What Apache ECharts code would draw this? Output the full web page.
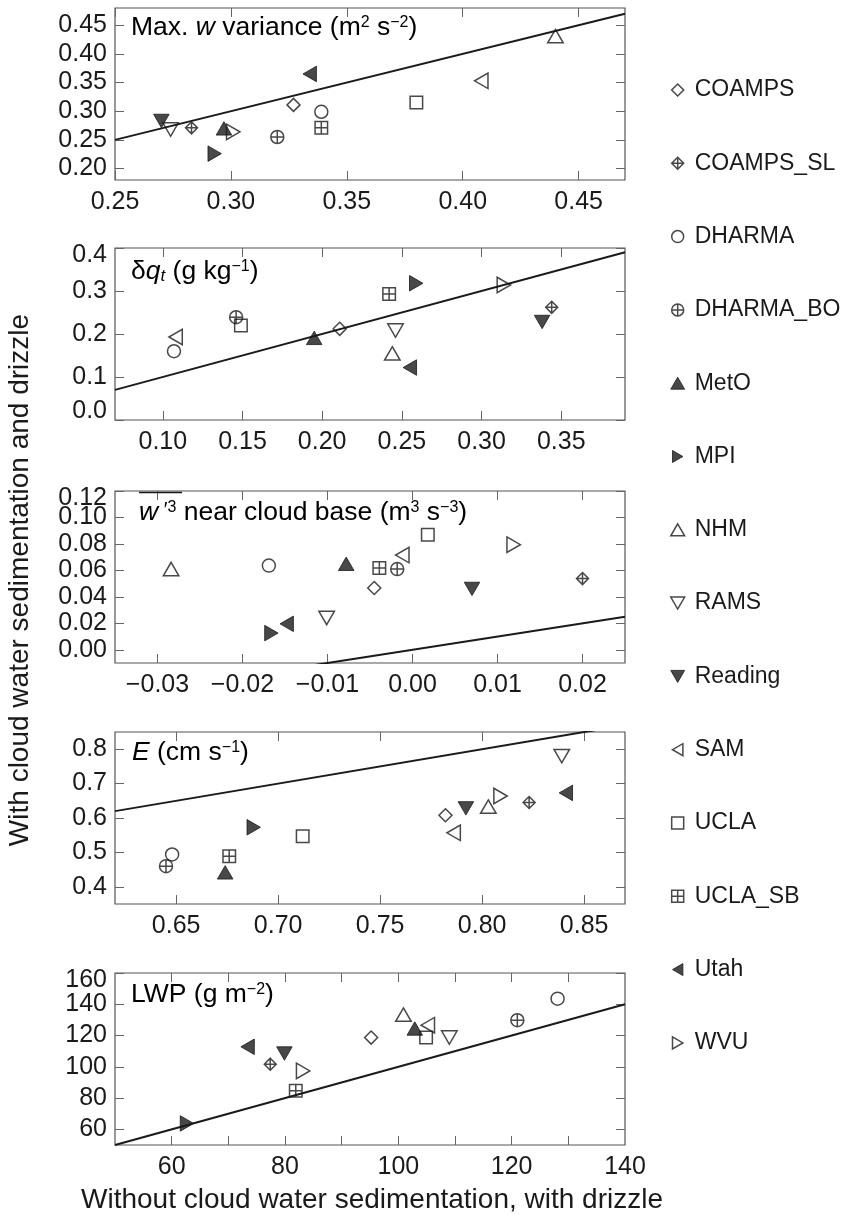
<!DOCTYPE html>
<html>
<head>
<meta charset="utf-8">
<script src="https://cdn.jsdelivr.net/npm/echarts@6/dist/echarts.min.js"></script>
<style>
html, body { margin: 0; padding: 0; background: #fff; }
#chart { width: 845px; height: 1215px; }
</style>
</head>
<body>
<div id="chart"></div>
<script>
var FONT = '"Liberation Sans", Arial, Helvetica, sans-serif';
var INK = '#1a1a1a';

var models = ['COAMPS', 'COAMPS_SL', 'DHARMA', 'DHARMA_BO', 'MetO', 'MPI', 'NHM',
  'RAMS', 'Reading', 'SAM', 'UCLA', 'UCLA_SB', 'Utah', 'WVU'];
var markerShape = ['diamond', 'diamondPlus', 'circle', 'circlePlus', 'up', 'right', 'up',
  'down', 'down', 'left', 'square', 'squarePlus', 'left', 'right'];
var markerFilled = [false, false, false, false, true, true, false,
  false, true, false, false, false, true, false];

// max. w variance (m2 s-2)
var wVarX = [0.327, 0.283, 0.339, 0.320, 0.297, 0.293, 0.440, 0.274, 0.270, 0.408, 0.380, 0.339, 0.334, 0.301];
var wVarY = [0.311, 0.271, 0.299, 0.255, 0.270, 0.226, 0.431, 0.268, 0.283, 0.353, 0.315, 0.271, 0.365, 0.264];
// delta qt (g kg-1)
var dqtX = [0.211, 0.344, 0.107, 0.146, 0.195, 0.259, 0.244, 0.246, 0.338, 0.108, 0.149, 0.242, 0.255, 0.314];
var dqtY = [0.212, 0.262, 0.160, 0.239, 0.191, 0.318, 0.155, 0.208, 0.228, 0.193, 0.220, 0.293, 0.122, 0.314];
// w'3 near cloud base (m3 s-3)
var w3X = [-0.0045, 0.0200, -0.0169, -0.0018, -0.0078, -0.0166, -0.0284, -0.0101, 0.0070, -0.0012, 0.0018, -0.0039, -0.0148, 0.0119];
var w3Y = [0.0467, 0.0538, 0.0636, 0.0610, 0.0650, 0.0126, 0.0610, 0.0240, 0.0460, 0.0716, 0.0869, 0.0618, 0.0196, 0.0794];
// E (cm s-1)
var entX = [0.782, 0.823, 0.648, 0.645, 0.674, 0.688, 0.803, 0.839, 0.792, 0.786, 0.712, 0.676, 0.841, 0.809];
var entY = [0.608, 0.645, 0.494, 0.460, 0.442, 0.573, 0.633, 0.780, 0.628, 0.557, 0.547, 0.489, 0.673, 0.664];
// LWP (g m-2)
var lwpX = [95.2, 77.4, 128.1, 121.0, 102.9, 62.7, 100.9, 109.0, 79.9, 105.2, 104.9, 81.9, 73.4, 83.2];
var lwpY = [118.7, 101.7, 143.6, 129.8, 124.5, 63.8, 133.4, 118.7, 108.5, 126.6, 118.7, 84.7, 112.8, 97.4];

var xRanges = [[0.25, 0.47], [0.07, 0.39], [-0.035, 0.025], [0.62, 0.87], [50, 140]];
var yRanges = [[0.18, 0.48], [0, 0.4], [-0.01, 0.12], [0.35, 0.85], [50, 160]];
var xTicks = [
  [0.25, 0.30, 0.35, 0.40, 0.45],
  [0.10, 0.15, 0.20, 0.25, 0.30, 0.35],
  [-0.03, -0.02, -0.01, 0.00, 0.01, 0.02],
  [0.65, 0.70, 0.75, 0.80, 0.85],
  [60, 70, 80, 90, 100, 110, 120, 130]
];
var xLabels = [
  [0.25, 0.30, 0.35, 0.40, 0.45],
  [0.10, 0.15, 0.20, 0.25, 0.30, 0.35],
  [-0.03, -0.02, -0.01, 0.00, 0.01, 0.02],
  [0.65, 0.70, 0.75, 0.80, 0.85],
  [60, 80, 100, 120, 140]
];
var yTicks = [
  [0.20, 0.25, 0.30, 0.35, 0.40, 0.45],
  [0.0, 0.1, 0.2, 0.3, 0.4],
  [0.00, 0.02, 0.04, 0.06, 0.08, 0.10, 0.12],
  [0.4, 0.5, 0.6, 0.7, 0.8],
  [60, 80, 100, 120, 140, 160]
];
var xDec = [2, 2, 2, 2, 0];
var yDec = [2, 1, 2, 1, 0];

var panelX = [wVarX, dqtX, w3X, entX, lwpX];
var panelY = [wVarY, dqtY, w3Y, entY, lwpY];
var gridTop = [8, 248, 491, 732, 973];
var gridH = 172;

var symbolPath = {
  diamond: 'path://M0,-10L10,0L0,10L-10,0Z',
  diamondPlus: 'path://M0,-10L10,0L0,10L-10,0ZM0,-10L0,10M-10,0L10,0',
  circle: 'circle',
  circlePlus: 'path://M-10,0A10,10,0,1,1,10,0A10,10,0,1,1,-10,0ZM-10,0L10,0M0,-10L0,10',
  square: 'path://M-10,-10L10,-10L10,10L-10,10Z',
  squarePlus: 'path://M-10,-10L10,-10L10,10L-10,10ZM0,-10L0,10M-10,0L10,0',
  up: 'path://M0,0L10,17.3L-10,17.3Z',
  down: 'path://M-10,0L10,0L0,17.3Z',
  left: 'path://M17.3,-10L17.3,10L0,0Z',
  right: 'path://M0,-10L17.3,0L0,10Z'
};
var symbolSize = { diamond: 13, diamondPlus: 12, circle: 13, circlePlus: 13, square: 12.5, squarePlus: 12.5,
  up: 15.5, down: 15.5, left: 15.5, right: 15.5 };

function markerStyle(m) {
  if (markerFilled[m]) return { color: INK, borderColor: INK, borderWidth: 1 };
  return { color: 'rgba(0,0,0,0)', borderColor: INK, borderWidth: 1.5 };
}

function fmt(v, dec) {
  return v.toFixed(dec).replace('-', '\u2212');
}

function isEdge(v, r) {
  return Math.abs(v - r[0]) < 1e-9 || Math.abs(v - r[1]) < 1e-9;
}

var edgeRich = {
  dn: { fontSize: 25, fontFamily: FONT, color: INK, padding: [14, 0, 0, 0] },
  up: { fontSize: 25, fontFamily: FONT, color: INK, padding: [0, 0, 18, 0] }
};

// kind: 'main' (ticks + labels), 'mirror' (ticks only), 'edge' (y labels sitting at the frame ends)
function makeAxis(p, dim, kind) {
  var r = dim === 'x' ? xRanges[p] : yRanges[p];
  var ticks = dim === 'x' ? xTicks[p] : yTicks[p];
  var labs = dim === 'x' ? xLabels[p] : yTicks[p];
  var dec = dim === 'x' ? xDec[p] : yDec[p];
  if (dim === 'y' && kind === 'main') labs = labs.filter(function (v) { return !isEdge(v, r); });
  if (dim === 'y' && kind === 'edge') labs = labs.filter(function (v) { return isEdge(v, r); });
  var mirror = kind === 'mirror';
  return {
    type: 'value',
    gridIndex: p,
    min: r[0],
    max: r[1],
    position: dim === 'x' ? (mirror ? 'top' : 'bottom') : (mirror ? 'right' : 'left'),
    splitLine: { show: false },
    axisLine: { show: false, onZero: false },
    axisTick: { show: kind !== 'edge', inside: true, length: 9, customValues: ticks,
      lineStyle: { color: '#666', width: 1 } },
    axisLabel: {
      show: !mirror && labs.length > 0,
      customValues: labs.length ? labs : [r[0]],
      showMinLabel: true,
      showMaxLabel: true,
      fontSize: 25,
      fontFamily: FONT,
      color: INK,
      margin: dim === 'x' ? 10 : 8,
      rich: edgeRich,
      formatter: function (v) {
        var s = fmt(v, dec);
        if (dim === 'y' && Math.abs(v - r[1]) < 1e-9) return '{dn|' + s + '}';
        if (dim === 'y' && Math.abs(v - r[0]) < 1e-9) return '{up|' + s + '}';
        return s;
      }
    }
  };
}

var grids = [], xAxes = [], yAxes = [], series = [];
for (var p = 0; p < 5; p++) {
  grids.push({ left: 115, width: 510, top: gridTop[p], height: gridH, show: true,
    borderColor: '#555', borderWidth: 1.2, backgroundColor: 'rgba(0,0,0,0)' });
  xAxes.push(makeAxis(p, 'x', 'main'));
  xAxes.push(makeAxis(p, 'x', 'mirror'));
  yAxes.push(makeAxis(p, 'y', 'main'));
  yAxes.push(makeAxis(p, 'y', 'mirror'));
  yAxes.push(makeAxis(p, 'y', 'edge'));

  // one-to-one line across the panel
  var xr = xRanges[p];
  series.push({
    type: 'line', xAxisIndex: 2 * p, yAxisIndex: 3 * p,
    data: [[xr[0], xr[0]], [xr[1], xr[1]]],
    symbol: 'none', clip: true, silent: true, z: 2,
    lineStyle: { color: INK, width: 2 }
  });

  for (var m = 0; m < models.length; m++) {
    var sh = markerShape[m];
    series.push({
      name: models[m], type: 'scatter',
      xAxisIndex: 2 * p, yAxisIndex: 3 * p,
      data: [[panelX[p][m], panelY[p][m]]],
      symbol: symbolPath[sh], symbolSize: symbolSize[sh], symbolKeepAspect: true,
      itemStyle: markerStyle(m), z: 3, silent: true
    });
  }
}

var legendData = models.map(function (name, m) {
  return { name: name, icon: symbolPath[markerShape[m]], itemStyle: markerStyle(m) };
});

var titleRich = {
  a: { fontSize: 26.5, fontFamily: FONT, color: INK, lineHeight: 26 },
  i: { fontSize: 26.5, fontFamily: FONT, color: INK, lineHeight: 26, fontStyle: 'italic' },
  s: { fontSize: 16, fontFamily: FONT, color: INK, lineHeight: 16, verticalAlign: 'top' },
  b: { fontSize: 17, fontFamily: FONT, color: INK, lineHeight: 17, verticalAlign: 'bottom', fontStyle: 'italic' },
  pr: { fontSize: 20, fontFamily: FONT, color: INK, lineHeight: 20, verticalAlign: 'top' }
};

function title(x, y, text) {
  return { type: 'text', x: x, y: y, z: 10,
    style: { text: text, rich: titleRich, verticalAlign: 'middle', align: 'left' } };
}

var graphics = [
  title(131, 28, '{a|Max. }{i|w}{a| variance (m}{s|2}{a| s}{s|\u22122}{a|)}'),
  title(131, 272, '{a|\u03b4}{i|q}{b|t}{a| (g kg}{s|\u22121}{a|)}'),
  title(139, 513, '{i|w}{pr| \u2032}{s|3}{a| near cloud base (m}{s|3}{a| s}{s|\u22123}{a|)}'),
  title(132, 753, '{i|E}{a| (cm s}{s|\u22121}{a|)}'),
  title(131, 995, '{a|LWP (g m}{s|\u22122}{a|)}'),
  { type: 'line', z: 10, shape: { x1: 139, y1: 492.5, x2: 182, y2: 492.5 },
    style: { stroke: INK, lineWidth: 1.5 } },
  { type: 'text', x: 20, y: 580, rotation: Math.PI / 2, z: 10,
    style: { text: 'With cloud water sedimentation and drizzle', fontSize: 28, fontFamily: FONT,
      fill: INK, align: 'center', verticalAlign: 'middle' } },
  { type: 'text', x: 372, y: 1200, z: 10,
    style: { text: 'Without cloud water sedimentation, with drizzle', fontSize: 28, fontFamily: FONT,
      fill: INK, align: 'center', verticalAlign: 'middle' } }
];

var chart = echarts.init(document.getElementById('chart'), null, { renderer: 'canvas' });
chart.setOption({
  animation: false,
  backgroundColor: '#fff',
  textStyle: { fontFamily: FONT },
  grid: grids,
  xAxis: xAxes,
  yAxis: yAxes,
  legend: {
    orient: 'vertical',
    left: 665,
    top: 72,
    itemWidth: 24,
    itemHeight: 12,
    itemGap: 47.3,
    selectedMode: false,
    data: legendData,
    textStyle: { fontSize: 23, fontFamily: FONT, color: INK, lineHeight: 26 }
  },
  graphic: graphics,
  series: series
});
</script>
</body>
</html>
